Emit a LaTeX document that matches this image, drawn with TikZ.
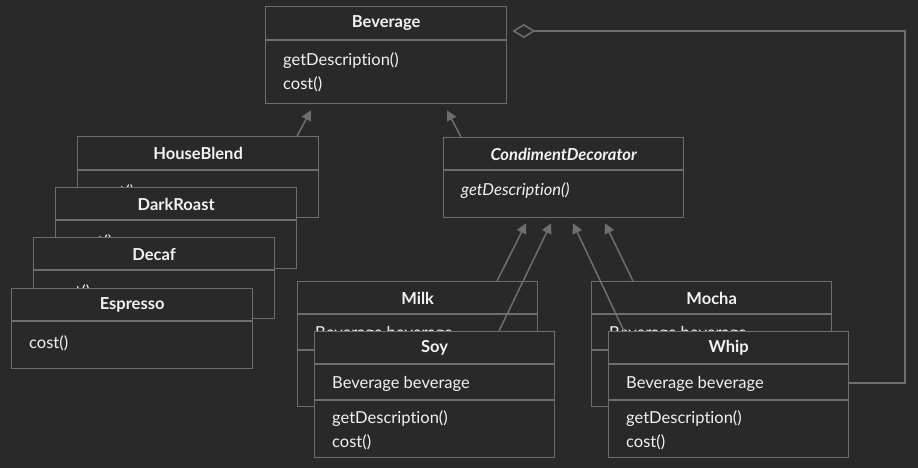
\documentclass[tikz,border=0pt]{standalone}
\usepackage{fontspec}
\setmainfont{Lato}[Ligatures={NoCommon,NoRare,NoContextual}]
\usetikzlibrary{arrows.meta,calc}
\definecolor{bg}{HTML}{2A292A}
\definecolor{ln}{HTML}{6E6E6E}
\definecolor{tx}{HTML}{F2F2F2}
\tikzset{
  box/.style={draw=ln, line width=1.3pt, fill=bg, anchor=north west, inner sep=0pt, minimum width=241pt},
  ttl/.style={text=tx, font=\fontsize{16.5}{19}\selectfont\bfseries, inner sep=0pt},
  itm/.style={text=tx, font=\fontsize{16.5}{19}\selectfont, inner sep=0pt, anchor=west},
  sep/.style={draw=ln, line width=1.3pt},
  gen/.style={draw=ln, line width=1.5pt, -{Triangle[length=10pt,width=10pt]}, color=ln},
  agg/.style={draw=ln, line width=1.5pt, -{Diamond[open,length=23pt,width=14pt]}, color=ln},
}
% name, x, y, height, title, first divider offset
\newcommand\umlbox[6]{%
  \node[box, minimum height=#4pt] (#1) at (#2,#3) {};
  \node[ttl] (#1-t) at ($(#1.north)+(0,17)$) {#5};
  \draw[sep] ($(#1.north west)+(0,#6)$) -- ($(#1.north east)+(0,#6)$);
}
\begin{document}
\begin{tikzpicture}[x=1pt,y=-1pt]
\fill[bg] (0,0) rectangle (918,468);
\useasboundingbox (0,0) rectangle (918,468);

% Beverage
\umlbox{bev}{265}{6}{97}{Beverage}{34}
\node[itm] (bev-m1) at ($(bev.north west)+(18,55)$) {getDescription()};
\node[itm] (bev-m2) at ($(bev.north west)+(18,78)$) {cost()};

% Concrete beverages
\umlbox{hb}{77}{136}{81}{HouseBlend}{34}
\node[itm] (hb-m) at ($(hb.north west)+(18,56)$) {cost()};
\umlbox{dr}{55}{187}{81}{DarkRoast}{33}
\node[itm] (dr-m) at ($(dr.north west)+(18,55)$) {cost()};
\umlbox{dc}{33}{237}{81}{Decaf}{33}
\node[itm] (dc-m) at ($(dc.north west)+(18,55)$) {cost()};
\umlbox{es}{11}{288}{80}{Espresso}{33}
\node[itm] (es-m) at ($(es.north west)+(18,55)$) {cost()};

% Condiment decorator
\node[box, minimum width=240pt, minimum height=80pt] (cd) at (443,137) {};
\node[ttl, font=\fontsize{16.5}{19}\selectfont\bfseries\itshape] (cd-t) at ($(cd.north)+(0,17)$) {CondimentDecorator};
\draw[sep] ($(cd.north west)+(0,33)$) -- ($(cd.north east)+(0,33)$);
\node[itm, font=\fontsize{16.5}{19}\selectfont\itshape] (cd-m) at ($(cd.north west)+(18,54)$) {getDescription()};

% Condiments
\newcommand\condiment[4]{%
  \node[box, minimum width=240pt, minimum height=#4pt] (#1) at (#2,#3) {};
  \node[ttl] (#1-t) at ($(#1.north)+(0,17)$) {\csname cname#1\endcsname};
  \draw[sep] ($(#1.north west)+(0,33)$) -- ($(#1.north east)+(0,33)$);
  \draw[sep] ($(#1.north west)+(0,69)$) -- ($(#1.north east)+(0,69)$);
  \node[itm] (#1-a) at ($(#1.north west)+(18,53)$) {Beverage beverage};
  \node[itm] (#1-m1) at ($(#1.north west)+(18,88)$) {getDescription()};
  \node[itm] (#1-m2) at ($(#1.north west)+(18,111)$) {cost()};
}
\def\cnamemilk{Milk}\def\cnamemocha{Mocha}\def\cnamesoy{Soy}\def\cnamewhip{Whip}
\condiment{milk}{297}{281}{125}
\condiment{mocha}{591}{281}{125}
\condiment{soy}{314}{331}{126}
\condiment{whip}{608}{331}{126}

% Generalisations
\draw[gen] ($(hb.north west)+(220,0)$) -- ($(bev.south west)+(46,6)$);
\draw[gen] ($(cd.north west)+(18,0)$) -- ($(bev.south west)+(182,6)$);
\draw[gen] ($(milk.north west)+(200,0)$) -- ($(cd.south west)+(83,5)$);
\draw[gen] ($(soy.north west)+(185,0)$) -- ($(cd.south west)+(108,5)$);
\draw[gen] ($(whip.north west)+(16,0)$) -- ($(cd.south west)+(130,5)$);
\draw[gen] ($(mocha.north west)+(42,0)$) -- ($(cd.south west)+(162,5)$);

% Aggregation
\coordinate (aggR) at (905,31);
\draw[agg] ($(whip.north east)+(0,52)$) -| (aggR) -- ($(bev.north east)+(5,25)$);
\end{tikzpicture}
\end{document}
